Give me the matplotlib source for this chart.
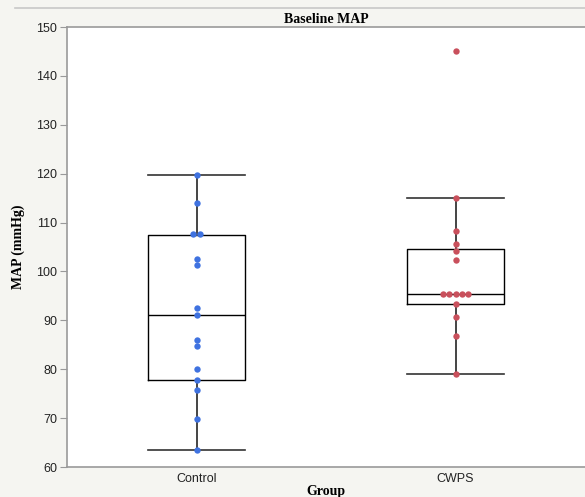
import numpy as np
import matplotlib
matplotlib.use("Agg")
import matplotlib.pyplot as plt

groups = ["Control", "CWPS"]
control_map = [119.7, 114.1, 107.7, 107.7, 102.6, 101.3, 92.5, 91.1,
               86.0, 84.7, 80.0, 77.8, 75.8, 69.9, 63.5]
cwps_map = [145.0, 115.0, 108.2, 105.6, 104.2, 102.3, 95.4, 95.4, 95.4,
            95.4, 95.4, 93.3, 90.7, 86.7, 79.0]
# box stats as drawn (q1, median, q3, low whisker, high whisker)
q1 = [77.8, 93.3]
med = [91.1, 95.4]
q3 = [107.5, 104.6]
whislo = [63.5, 79.0]
whishi = [119.7, 115.0]
point_colors = ["#3f72e0", "#c9505c"]

bg = "#f5f5f1"
fig = plt.figure(figsize=(5.85, 4.97), dpi=100, facecolor=bg)
ax = fig.add_axes([67 / 585, 1 - 467 / 497, 1 - 67 / 585, 440 / 497])
ax.set_facecolor("white")

stats = []
for i in range(2):
    stats.append(dict(med=med[i], q1=q1[i], q3=q3[i], whislo=whislo[i],
                      whishi=whishi[i], fliers=[], label=groups[i]))
ax.bxp(stats, positions=[0, 1], widths=0.377, showfliers=False,
       boxprops=dict(color="black", lw=1.0),
       medianprops=dict(color="black", lw=1.0),
       whiskerprops=dict(color="#444444", lw=1.4),
       capprops=dict(color="#333333", lw=1.2), capwidths=0.377)

# spread tied values side by side
step = 0.0235
for i, vals in enumerate([control_map, cwps_map]):
    vals = np.array(vals)
    xs = np.zeros(len(vals)) + i
    for v in np.unique(vals):
        idx = np.where(vals == v)[0]
        n = len(idx)
        xs[idx] = i + (np.arange(n) - (n - 1) / 2) * step
    ax.scatter(xs, vals, s=21, color=point_colors[i], zorder=3, lw=0)

ax.set_xlim(-0.5, 1.5)
ax.set_ylim(60, 150)
ax.set_yticks(np.arange(60, 151, 10))
ax.set_xticks([0, 1])
ax.set_xticklabels(groups)
for lab in ax.get_xticklabels() + ax.get_yticklabels():
    lab.set_family("Liberation Sans")
    lab.set_fontsize(9)
    lab.set_color("#222222")
ax.tick_params(axis="y", length=5, color="#999999", pad=2)
ax.tick_params(axis="x", length=0, pad=4)
for s in ["left", "bottom", "top"]:
    ax.spines[s].set_color("#9a9a9a")
    ax.spines[s].set_linewidth(1.2)
ax.spines["right"].set_visible(False)

ax.set_title("Baseline MAP", family="Liberation Serif", fontweight="bold",
             fontsize=10, pad=3)
ax.set_ylabel("MAP (mmHg)", family="Liberation Serif", fontweight="bold",
              fontsize=10, labelpad=8)
ax.set_xlabel("Group", family="Liberation Serif", fontweight="bold",
              fontsize=10, labelpad=0)

# report frame line at the top
fig.add_artist(plt.Line2D([15 / 585, 1], [1 - 8 / 497, 1 - 8 / 497],
                          color="#c8c8c8", lw=1.2, transform=fig.transFigure))

fig.savefig("out.png", dpi=100, facecolor=bg)
